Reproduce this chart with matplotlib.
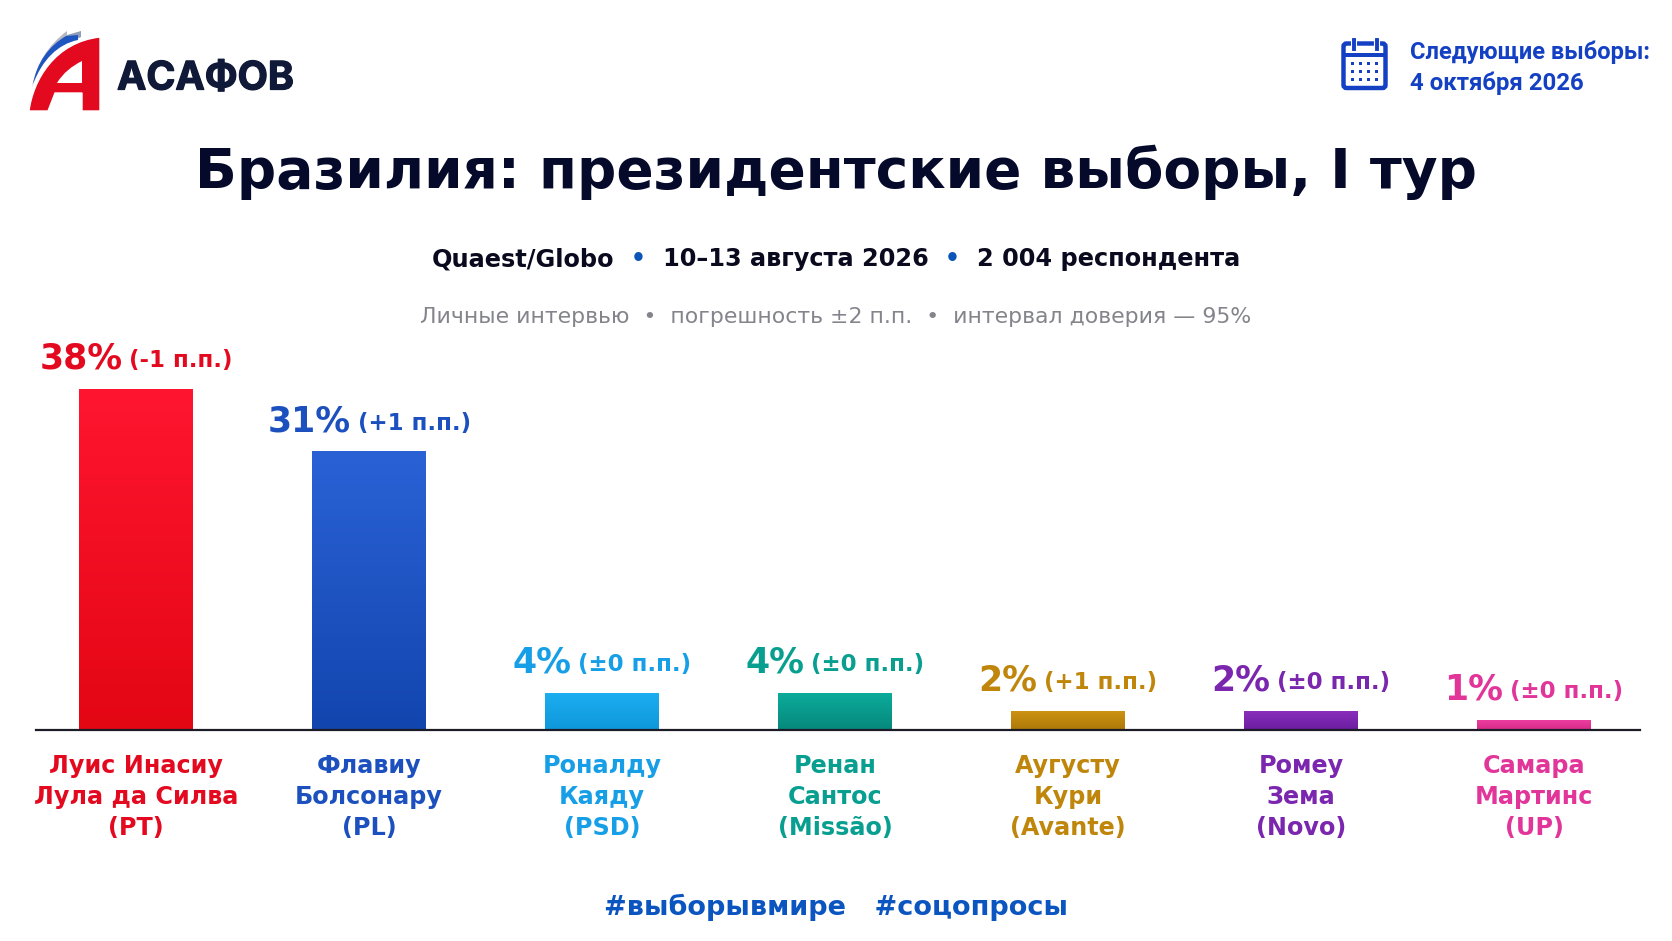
import numpy as np
import matplotlib
matplotlib.use("Agg")
import matplotlib.pyplot as plt
import matplotlib.patheffects as pe
from matplotlib.colors import LinearSegmentedColormap
from matplotlib.patches import FancyBboxPatch, Rectangle, PathPatch
from matplotlib.path import Path

candidates = ["Луис Инасиу\nЛула да Силва\n(PT)", "Флавиу\nБолсонару\n(PL)", "Роналду\nКаяду\n(PSD)",
              "Ренан\nСантос\n(Missão)", "Аугусту\nКури\n(Avante)", "Ромеу\nЗема\n(Novo)", "Самара\nМартинс\n(UP)"]
values = [38, 31, 4, 4, 2, 2, 1]
changes = ["(-1 п.п.)", "(+1 п.п.)", "(±0 п.п.)", "(±0 п.п.)", "(+1 п.п.)", "(±0 п.п.)", "(±0 п.п.)"]
text_colors = ["#E30A20", "#1B50BE", "#169FE6", "#089F90", "#BF860B", "#7B26AE", "#E2359A"]
top_colors = ["#FF1530", "#2A62D6", "#1CAEF0", "#0CAB9B", "#CC9212", "#8A2EBC", "#EC3E9E"]
bottom_colors = ["#E30613", "#1245AE", "#0F98DC", "#06897D", "#AE7A08", "#6C1EA0", "#D92B8A"]
title = "Бразилия: президентские выборы, I тур"
W, H = 1672, 941
fig = plt.figure(figsize=(W/100, H/100), dpi=100, facecolor="white")

ov = fig.add_axes([0, 0, 1, 1], zorder=0)
ov.set_xlim(0, W); ov.set_ylim(H, 0); ov.axis("off")

BASE = 729.5
PX = 340/38
left, right = 35.5, 1640
top_v = 50
ax = fig.add_axes([left/W, (H-BASE)/H, (right-left)/W, (top_v*PX)/H], zorder=1)
ax.patch.set_alpha(0)
ax.set_yticks([]); ax.set_xticks([])
for s in ["top", "left", "right"]:
    ax.spines[s].set_visible(False)
ax.spines["bottom"].set_linewidth(1.6)
ax.spines["bottom"].set_color("#1C1C28")
bw = 114/233
for i, v in enumerate(values):
    cm = LinearSegmentedColormap.from_list("g", [top_colors[i], bottom_colors[i]])
    ax.imshow(np.linspace(0, 1, 256).reshape(-1, 1), cmap=cm, aspect="auto", zorder=2,
              extent=(i-bw/2, i+bw/2, 0, v), interpolation="bilinear")
ax.set_xlim((left-136)/233, (right-136)/233)
ax.set_ylim(0, top_v)

fig.canvas.draw()
rend = fig.canvas.get_renderer()
for i, v in enumerate(values):
    a = ax.annotate(f"{v}%", xy=(i, v), xytext=(0, 15), textcoords="offset points", ha="left", va="baseline",
                    fontsize=25, fontweight="bold", color=text_colors[i], zorder=5)
    b = ax.annotate(changes[i], xy=(i, v), xytext=(0, 16), textcoords="offset points", ha="left", va="baseline",
                    fontsize=16.5, fontweight="bold", color=text_colors[i], zorder=5)
    wa = a.get_window_extent(rend).width
    wb = b.get_window_extent(rend).width
    gap = 7
    tot = wa + gap + wb
    k = 72/100
    a.set_position((-tot/2*k, 15))
    b.set_position(((-tot/2 + wa + gap)*k, 16))
    ax.annotate(candidates[i], xy=(i, 0), xytext=(0, -17.8), textcoords="offset points", ha="center", va="top",
                fontsize=17.2, fontweight="bold", color=text_colors[i], linespacing=1.37, zorder=5)

ov.text(836, 172.5, title, ha="center", va="center", fontsize=39.6, fontweight="bold", color="#050A2A")
sub = [("Quaest/Globo", "#0A0A1E"), ("  •  ", "#0B55B8"), ("10–13 августа 2026", "#0A0A1E"), ("  •  ", "#0B55B8"), ("2 004 респондента", "#0A0A1E")]
ts = [ov.text(0, 259, s, ha="left", va="center", fontsize=17.3, fontweight="bold", color=c) for s, c in sub]
ws = [t.get_window_extent(rend).width for t in ts]
x = 836 - sum(ws)/2
for t, w in zip(ts, ws):
    t.set_x(x); x += w
ov.text(836, 317, "Личные интервью  •  погрешность ±2 п.п.  •  интервал доверия — 95%", ha="center", va="center",
        fontsize=15.8, color="#84848C")
ov.text(836, 907, "#выборывмире   #соцопросы", ha="center", va="center", fontsize=19.5, fontweight="bold", color="#0B55C0")

# logo
M, L, C, Z = Path.MOVETO, Path.LINETO, Path.CURVE4, Path.CLOSEPOLY
def shape(pts, codes, **kw):
    ov.add_patch(PathPatch(Path(pts, codes), **kw))
shape([(32,87),(36,65),(48,45),(67,31),(67,40),(52,50),(40,65),(32,87),(32,87)],
      [M,C,C,C,L,C,C,C,Z], fc="#B4B8C0", ec="none")
shape([(67,35),(81,31),(81,37),(67,43),(67,35)], [M,L,L,L,Z], fc="#8E9DB8", ec="none")
shape([(33,84),(37,62),(49,46),(66,36),(78,35),(78,40),(58,44),(42,60),(33,84),(33,84)],
      [M,C,C,C,L,L,C,C,C,Z], fc="#1F55C0", ec="none", zorder=2)
shape([(29,111),(33,80),(55,42),(100,37),(100,111),(82,111),(82,93),(55,93),(48,111),(29,111)],
      [M,C,C,C,L,L,L,L,L,Z], fc="#E30A20", ec="white", lw=1.0, zorder=3)
shape([(57,83),(63,73),(72,66),(82,61),(82,83),(57,83)], [M,C,C,C,L,Z], fc="white", ec="none", zorder=4)
ov.text(117, 79, "АСАФОВ", ha="left", va="center", fontsize=28.3, fontweight="bold", family="Inter", color="#101A38",
        path_effects=[pe.withStroke(linewidth=0.9, foreground="#101A38")])

# calendar
blue = "#1440C4"
ov.add_patch(FancyBboxPatch((1343.5, 43.5), 42, 44.5, boxstyle="round,pad=0,rounding_size=3", fc="none", ec=blue, lw=3.2))
ov.add_patch(Rectangle((1343.5, 53), 42, 4, fc=blue, ec="none"))
for rx in (1351, 1374):
    ov.add_patch(Rectangle((rx, 37), 4.5, 14, fc=blue, ec="white", lw=0.8))
for r in range(3):
    for c in range(4):
        ov.add_patch(Rectangle((1350.5+c*8, 61.5+r*8), 3.5, 3.5, fc=blue, ec="none"))
ov.text(1410, 52, "Следующие выборы:", ha="left", va="center", fontsize=17, fontweight="bold", family="Roboto", color=blue)
ov.text(1410, 83, "4 октября 2026", ha="left", va="center", fontsize=17.3, fontweight="bold", family="Roboto", color=blue)

fig.savefig("out.png", dpi=100, facecolor="white")
